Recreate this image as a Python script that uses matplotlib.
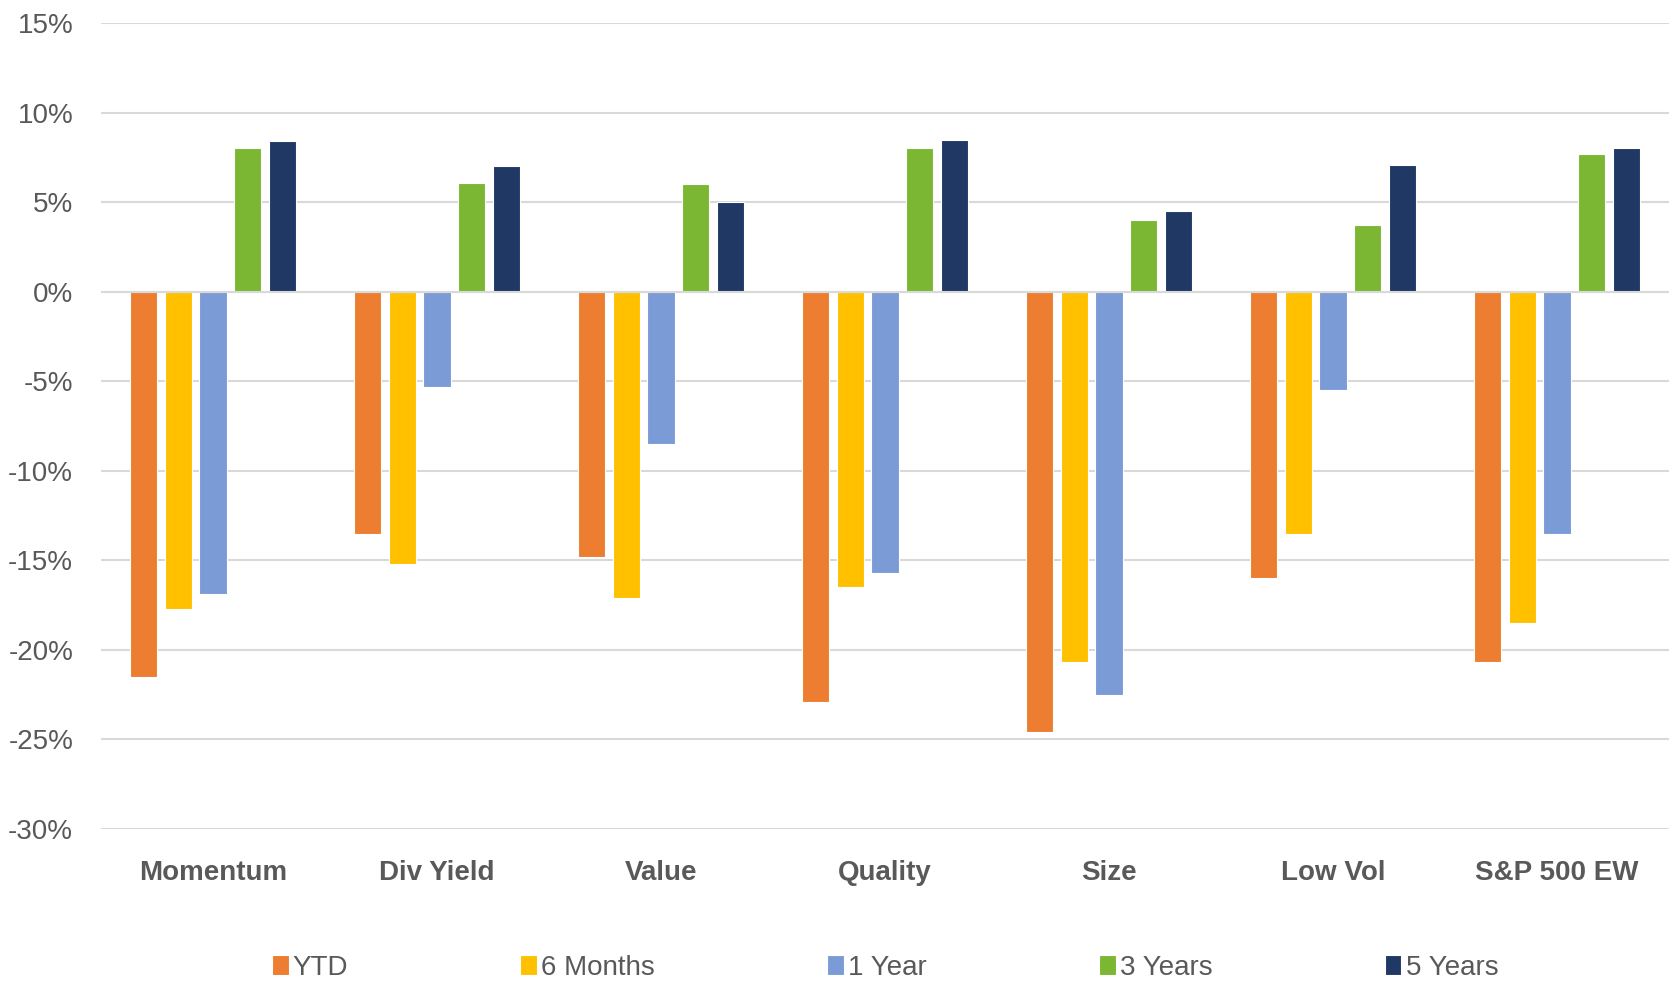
import numpy as np
import matplotlib
matplotlib.use('Agg')
import matplotlib.pyplot as plt
from matplotlib.ticker import FuncFormatter

categories = ['Momentum', 'Div Yield', 'Value', 'Quality', 'Size', 'Low Vol', 'S&P 500 EW']
series = ['YTD', '6 Months', '1 Year', '3 Years', '5 Years']
ytd = [-21.5, -13.5, -14.8, -22.9, -24.6, -16.0, -20.7]
six_months = [-17.7, -15.2, -17.1, -16.5, -20.7, -13.5, -18.5]
one_year = [-16.9, -5.3, -8.5, -15.7, -22.5, -5.5, -13.5]
three_years = [8.0, 6.1, 6.0, 8.0, 4.0, 3.75, 7.7]
five_years = [8.4, 7.0, 5.0, 8.5, 4.5, 7.1, 8.0]
colors = ['#ED7D31', '#FFC000', '#7A9BD6', '#7BB733', '#203864']

plt.rcParams['font.family'] = ['Liberation Sans', 'DejaVu Sans']

fig = plt.figure(figsize=(16.69, 9.84), dpi=100)
ax = fig.add_axes([0.0605, 0.1575, 0.9395, 0.819])

x = np.arange(len(categories))
slot = 0.1545
width = 0.122
for i, (name, vals) in enumerate(zip(series, [ytd, six_months, one_year, three_years, five_years])):
    ax.bar(x + (i - 2) * slot, vals, width, color=colors[i], label=name,
           edgecolor='white', linewidth=0.8, zorder=3)

ax.set_ylim(-30, 15)
ax.set_xlim(-0.5, len(categories) - 0.5)
ax.set_yticks(np.arange(-30, 16, 5))
ax.yaxis.set_major_formatter(FuncFormatter(lambda v, p: '%d%%' % v))
ax.grid(axis='y', color='#D9D9D9', linewidth=1.5, zorder=0)
ax.axhline(0, color='#D9D9D9', linewidth=1.5, zorder=4)
for s in ax.spines.values():
    s.set_visible(False)
ax.tick_params(axis='both', length=0)
ax.tick_params(axis='y', labelsize=20, labelcolor='#595959', pad=20)
ax.set_xticks(x)
ax.set_xticklabels(categories, fontsize=20, fontweight='bold', color='#595959')
ax.tick_params(axis='x', pad=22)

leg = ax.legend(loc='center', bbox_to_anchor=(0.5, -0.172), ncol=5, frameon=False,
                fontsize=20, handlelength=0.6, handleheight=0.75, handletextpad=0.15,
                columnspacing=6.2, labelcolor='#595959')

fig.savefig('out.png', dpi=100)
